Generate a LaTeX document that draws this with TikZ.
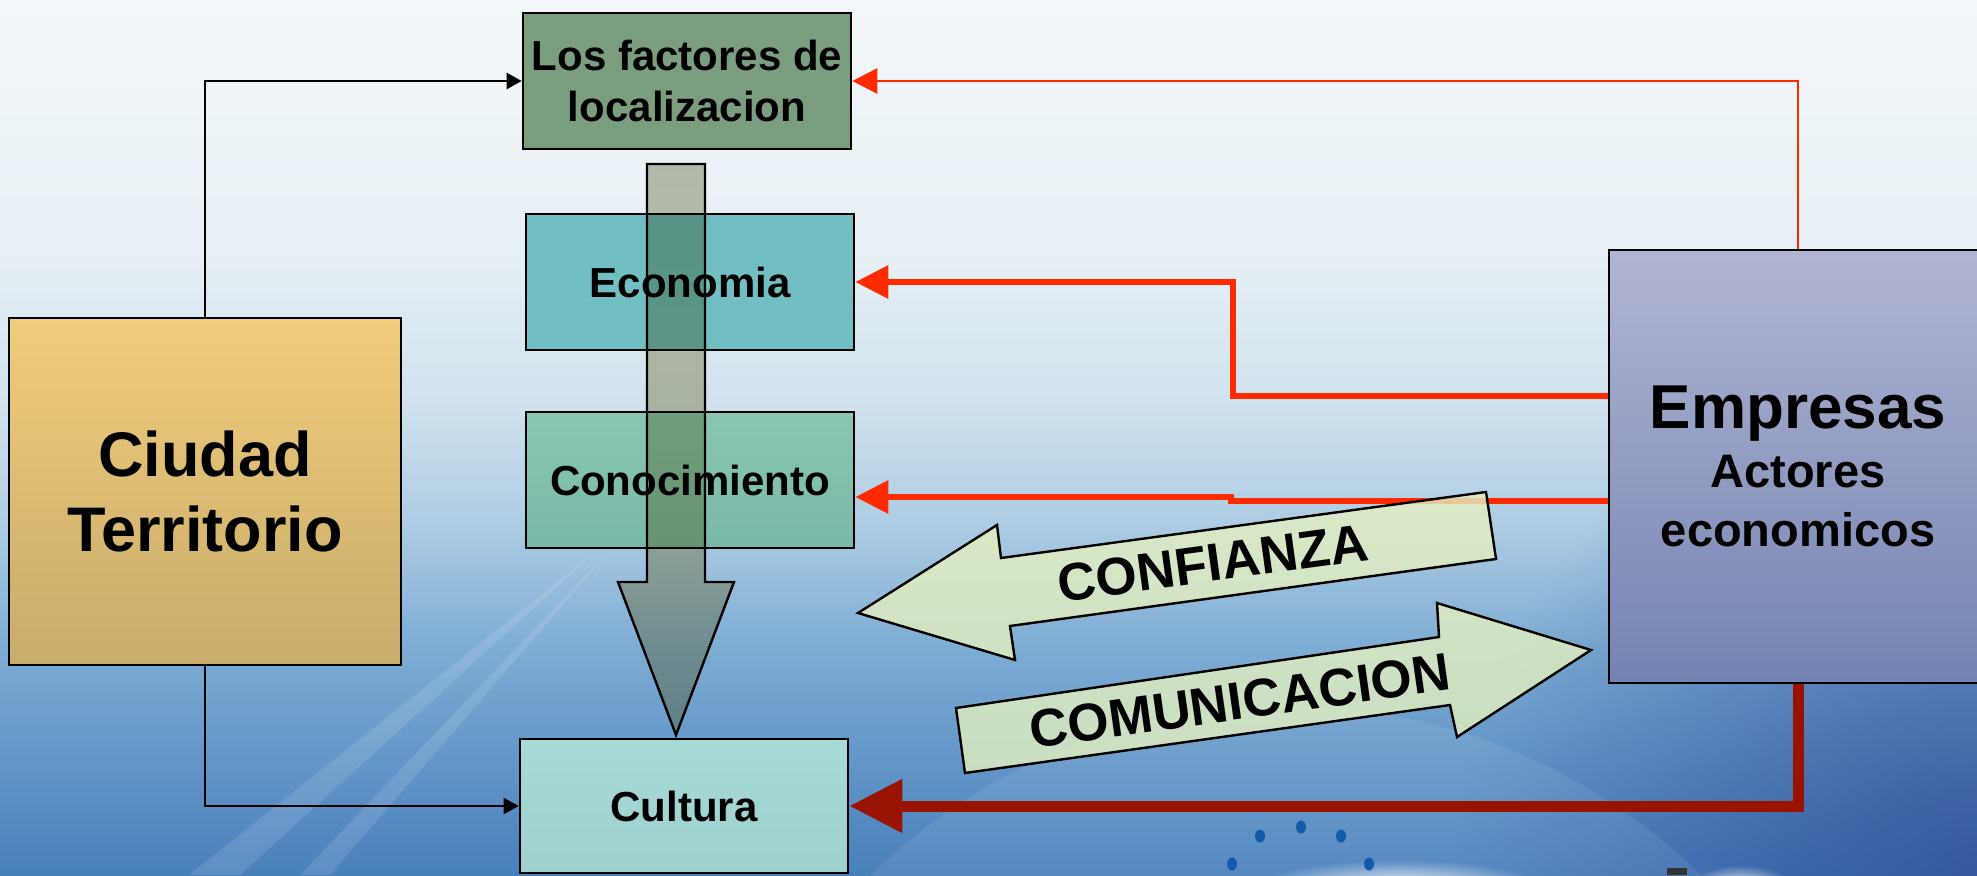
\documentclass[tikz,border=0pt]{standalone}
\usepackage{fontspec}
\setmainfont{Liberation Sans}
\usetikzlibrary{arrows.meta,positioning,fadings}
\definecolor{skytop}{RGB}{243,247,250}
\definecolor{skyhigh}{RGB}{231,240,245}
\definecolor{skymid}{RGB}{208,226,237}
\definecolor{skylow}{RGB}{175,205,228}
\definecolor{skydeep}{RGB}{125,172,212}
\definecolor{skybottom}{RGB}{72,128,188}
\definecolor{skynight}{RGB}{45,70,145}
\definecolor{dotblue}{RGB}{20,90,170}
\definecolor{locgreen}{RGB}{123,158,126}
\definecolor{ecoteal}{RGB}{114,191,195}
\definecolor{contop}{RGB}{137,199,180}
\definecolor{conbot}{RGB}{121,185,167}
\definecolor{cultop}{RGB}{168,218,214}
\definecolor{culbot}{RGB}{158,208,206}
\definecolor{ciutop}{RGB}{241,204,124}
\definecolor{ciubot}{RGB}{200,172,106}
\definecolor{emptop}{RGB}{177,182,210}
\definecolor{empbot}{RGB}{115,131,178}
\definecolor{flowtop}{RGB}{192,196,177}
\definecolor{flowbot}{RGB}{230,210,172}
\definecolor{leafgreen}{RGB}{228,240,192}
\definecolor{redline}{RGB}{255,42,0}
\definecolor{darkred}{RGB}{153,20,0}
\pgfdeclareverticalshading{sky}{100bp}{color(0bp)=(skybottom); color(25bp)=(skybottom);
  color(37.9bp)=(skydeep); color(45.3bp)=(skylow); color(52.1bp)=(skymid);
  color(60.7bp)=(skyhigh); color(75bp)=(skytop); color(100bp)=(skytop)}
\tikzfading[name=glow, inner color=transparent!0, outer color=transparent!100]
\tikzset{basic/.style={draw=black,line width=2.6pt,rectangle,align=center,
                       font=\fontsize{42}{51}\selectfont\bfseries}}
\tikzset{factor/.style={basic,minimum width=328pt,minimum height=136pt}}
\tikzset{link/.style={draw=black,line width=2.5pt,-{Triangle[length=15pt,width=16pt]}}}
\tikzset{pull/.style={draw=redline,line width=2.7pt,-{Triangle[length=25pt,width=25pt]}}}
\tikzset{push/.style={draw=redline,line width=6.3pt,-{Triangle[length=33pt,width=32pt]}}}
\tikzset{feed/.style={draw=darkred,line width=11pt,-{Triangle[length=53pt,width=51pt]}}}
\tikzset{flow/.style={draw=black,line width=2.4pt,blend mode=multiply,
                      top color=flowtop,bottom color=flowbot}}
\tikzset{banner/.style={draw=black,line width=2.4pt,fill=leafgreen,fill opacity=0.8}}
\tikzset{bannertext/.style={font=\fontsize{53}{60}\selectfont\bfseries}}

\begin{document}
\begin{tikzpicture}[x=1pt,y=-1pt]
    \useasboundingbox (0,0) rectangle (1977,875);
    % Slide background
    \shade[shading=sky] (0,0) rectangle (1977,875);
    \fill[skynight,path fading=glow,fill opacity=0.7] (1977,875) circle (520);
    \fill[white,fill opacity=0.08] (1286,1300) circle (594);
    \fill[white,fill opacity=0.12] (189,875) -- (600,548) -- (240,875) -- cycle;
    \fill[white,fill opacity=0.12] (300,875) -- (612,548) -- (330,875) -- cycle;
    \fill[white,path fading=glow] (1400,890) ellipse (150 and 30);
    \fill[white,path fading=glow] (1740,890) ellipse (55 and 25);
    \foreach \dx/\dy in {1260/836,1301/827,1341/836,1232/864,1369/864}{%
          \fill[dotblue] (\dx,\dy) ellipse (5 and 6.5);
        }
    \fill[black!80] (1667,868) rectangle (1687,875);
    % Draw the factor boxes
    \node[factor,fill=locgreen] (loc) at (687,81) {Los factores de\\localizacion};
    \node[factor,fill=ecoteal] (eco) at (690,282) {Economia};
    \node[factor,top color=contop,bottom color=conbot] (con) at (690,480) {Conocimiento};
    \node[factor,minimum height=134pt,top color=cultop,bottom color=culbot] (cul) at (684,806) {Cultura};
    % Draw the two actors
    \node[basic,minimum width=392pt,minimum height=347pt,top color=ciutop,bottom color=ciubot,
          font=\fontsize{63}{75}\selectfont\bfseries] (ciu) at (205,491.5) {Ciudad\\Territorio};
    \node[basic,minimum width=378pt,minimum height=433pt,top color=emptop,bottom color=empbot,
          font=\fontsize{47}{59}\selectfont\bfseries] (emp) at (1798,466.5)
          {{\fontsize{62}{59}\selectfont Empresas}\\Actores\\economicos};
    % Big arrow through the factors
    \path[flow] (647,164) -- (705,164) -- (705,582) -- (734,582) -- (676,735)
                -- (618,582) -- (647,582) -- cycle;
    % Edges from Ciudad
    \draw[link] (ciu.north) |- (loc.west);
    \draw[link] (ciu.south) |- (cul.west);
    % Edges from Empresas
    \draw[pull] (emp.north) |- (loc.east);
    \coordinate (bend1) at (1233,396);
    \draw[push] (bend1 -| emp.west) -- (bend1) |- (eco.east);
    \coordinate (bend2) at (1231,501);
    \coordinate (bend3) at (1231,497);
    \draw[push] (bend2 -| emp.west) -- (bend2) -- (bend3) -- (bend3 -| con.east);
    \draw[feed] (emp.south) |- (cul.east);
    % Banner arrows
    \draw[banner] (858,613) -- (997,525) -- (1001,558) -- (1486,492) -- (1496,559)
                  -- (1010,626) -- (1015,660) -- cycle;
    \node[bannertext,rotate=7.8] (trust) at (1213,563) {CONFIANZA};
    \draw[banner] (956,708) -- (1439,637) -- (1437,603) -- (1591,650) -- (1457,737)
                  -- (1450,705) -- (965,773) -- cycle;
    \node[bannertext,rotate=8] (talk) at (1240,701) {COMUNICACION};
\end{tikzpicture}
\end{document}
